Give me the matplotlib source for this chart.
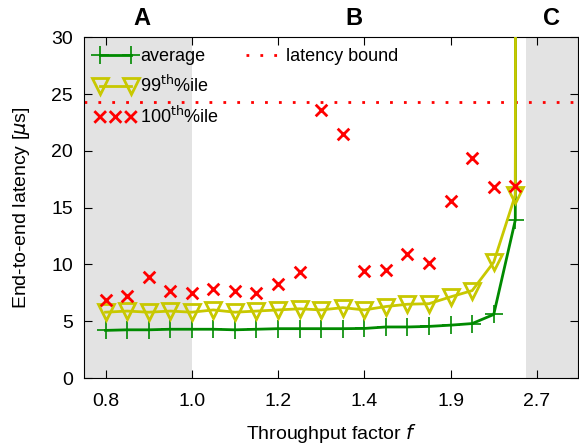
import numpy as np
import matplotlib.pyplot as plt
from matplotlib.lines import Line2D

plt.rcParams['font.family'] = ['Liberation Sans', 'DejaVu Sans']
plt.rcParams['mathtext.fontset'] = 'dejavusans'

# Data (evenly spaced sample points, ticks every 4 points)
tick_labels = ['0.8', '1.0', '1.2', '1.4', '1.9', '2.7']
avg = [4.2, 4.25, 4.25, 4.3, 4.3, 4.3, 4.25, 4.3, 4.35, 4.35, 4.35, 4.35,
       4.37, 4.5, 4.5, 4.55, 4.66, 4.8, 5.6, 13.9]
p99 = [5.8, 5.9, 5.8, 5.9, 5.8, 6.0, 5.8, 5.9, 6.0, 6.1, 6.0, 6.2,
       6.0, 6.3, 6.5, 6.55, 7.15, 7.7, 10.2, 16.1]
p100 = [6.9, 7.2, 8.9, 7.7, 7.45, 7.8, 7.7, 7.5, 8.3, 9.3, 23.6, 21.5,
        9.45, 9.5, 10.9, 10.1, 15.6, 19.4, 16.8, 16.9]
overload = 100.0  # value after saturation (off chart)
bound = 24.3

n = len(avg)
x = np.arange(n)
x_line = np.append(x, n - 1 + 0.06)

fig = plt.figure(figsize=(5.79, 4.48), dpi=100)
ax = fig.add_axes([0.145, 0.156, 0.853, 0.761])

ax.axvspan(-1, 4, color='#e3e3e3', lw=0, zorder=0)
ax.axvspan(19.5, 22, color='#e3e3e3', lw=0, zorder=0)

green = '#008a00'
olive = '#c8c800'
ax.plot(x_line, avg + [overload], color=green, lw=2, marker='+', ms=13, mew=1.2,
        markevery=list(range(n)), label='average', zorder=3)
ax.plot(x_line, p99 + [overload], color=olive, lw=2, marker='v', ms=12, mew=2,
        mfc='none', markevery=list(range(n)), label='99$^{\\rm th}$%ile', zorder=4)
ax.scatter(x, p100, marker='x', s=70, color='red', linewidths=2,
           label='100$^{\\rm th}$%ile', zorder=5)
ax.axhline(bound, color='red', ls=(0, (1, 4)), lw=2, label='latency bound', zorder=2)

ax.set_xlim(-1, 21.9)
ax.set_ylim(0, 30)
ax.set_xticks(np.arange(0, 21, 4))
ax.set_xticklabels(tick_labels)
ax.set_yticks(np.arange(0, 31, 5))
ax.tick_params(direction='in', top=True, right=True, length=6, labelsize=14)
ax.tick_params(axis='x', pad=11)
ax.tick_params(axis='y', pad=8)
ax.set_xlabel('Throughput factor $f$', fontsize=14, labelpad=8)
ax.set_ylabel('End-to-end latency [$\\mu$s]', fontsize=14, labelpad=14)

for lx, t in [(1.7, 'A'), (11.5, 'B'), (20.7, 'C')]:
    ax.text(lx, 30.6, t, fontsize=17, fontweight='bold', ha='center', va='bottom')

h, l = ax.get_legend_handles_labels()
blank = Line2D([], [], ls='none')
hh = h + [blank, blank]
ll = l + ['', '']
ax.legend(hh, ll, loc='upper left', ncol=2, frameon=False, fontsize=13,
          numpoints=2, scatterpoints=3, scatteryoffsets=[0.5],
          handlelength=2.3, handletextpad=0.2,
          labelspacing=0.55, columnspacing=1.2, borderaxespad=0.2)

fig.savefig('out.png', dpi=100)
